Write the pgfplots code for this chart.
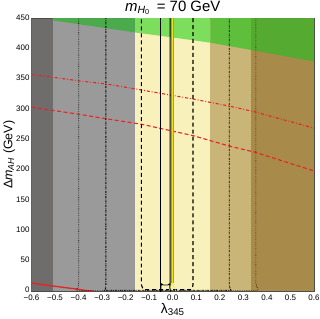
\documentclass[border=0pt]{standalone}
\usepackage{pgfplots}
\pgfplotsset{compat=1.18}
\usepackage{fontspec}
\setmainfont{Liberation Sans}
\definecolor{cdg}{HTML}{6F6C6C}
\definecolor{cg}{HTML}{9A9A9A}
\definecolor{cy}{HTML}{F8F1BC}
\definecolor{ct}{HTML}{C9B577}
\definecolor{cb}{HTML}{A88B4A}
\definecolor{gg}{HTML}{4BAA4B}
\definecolor{gy}{HTML}{7DDE5D}
\definecolor{gt}{HTML}{5FBF3D}
\definecolor{gb}{HTML}{55AA32}
\definecolor{cred}{HTML}{EE2020}
\definecolor{olive}{HTML}{B8A200}
\definecolor{yel}{HTML}{F2E21A}
\begin{document}
\begin{tikzpicture}
\begin{axis}[
  scale only axis, width=282.5bp, height=272.5bp,
  xmin=-0.6, xmax=0.6, ymin=0, ymax=450,
  xtick={-0.6,-0.5,-0.4,-0.3,-0.2,-0.1,0,0.1,0.2,0.3,0.4,0.5,0.6},
  xticklabels={−0.6,−0.5,−0.4,−0.3,−0.2,−0.1,0.0,0.1,0.2,0.3,0.4,0.5,0.6},
  ytick={0,50,...,450},
  minor x tick num=4, minor y tick num=4,
  tick align=inside, major tick length=3bp, minor tick length=1.8bp,
  tick style={black, line width=0.4pt},
  /pgf/number format/assume math mode=true,
  tick label style={font=\fontsize{8}{9}\selectfont},
  xticklabel style={yshift=-0.3bp},
  yticklabel style={xshift=1.5bp, yshift=0.8bp},
  axis line style={line width=0.5pt, black!70},
  title={\textit{m}\textsubscript{\textit{H}\textsubscript{0}}\, = 70 GeV},
  title style={font=\fontsize{15}{16}\selectfont, yshift=-6bp},
  xlabel={λ\textsubscript{345}},
  xlabel style={font=\fontsize{14}{15}\selectfont, yshift=4bp},
  ylabel={Δ\textit{m}\textsubscript{\textit{AH}} (GeV)},
  ylabel style={font=\fontsize{12.5}{13}\selectfont, yshift=-5.5bp},
  clip=true,
]
% bands
\addplot[fill=cdg, draw=none] coordinates {(-0.6,0) (-0.51,0) (-0.51,450) (-0.6,450)};
\addplot[fill=cg, draw=none] coordinates {(-0.51,0) (-0.16,0) (-0.16,450) (-0.51,450)};
\addplot[fill=cy, draw=none] coordinates {(-0.16,0) (0.16,0) (0.16,450) (-0.16,450)};
\addplot[fill=ct, draw=none] coordinates {(0.16,0) (0.333,0) (0.333,450) (0.16,450)};
\addplot[fill=cb, draw=none] coordinates {(0.333,0) (0.6,0) (0.6,450) (0.333,450)};
% green region
\addplot[fill=gg, draw=none] coordinates {(-0.51,447) (-0.16,427) (-0.16,460) (-0.51,460)};
\addplot[fill=gy, draw=none] coordinates {(-0.16,427) (0.07,415) (0.16,410) (0.16,460) (-0.16,460)};
\addplot[fill=gt, draw=none] coordinates {(0.16,410) (0.333,398) (0.333,460) (0.16,460)};
\addplot[fill=gb, draw=none] coordinates {(0.333,398) (0.6,379) (0.6,460) (0.333,460)};
% red curves
\addplot[cred, line width=1.1pt, dash pattern=on 3pt off 2pt on 0.8pt off 2pt] coordinates {
 (-0.6,358) (-0.4,347) (-0.284,342) (-0.133,332) (0.086,317) (0.238,305.6) (0.351,295.6) (0.6,269)};
\addplot[cred, line width=1.1pt, dash pattern=on 4pt off 2.5pt] coordinates {
 (-0.6,303.5) (-0.4,292) (-0.284,284.5) (-0.133,275.4) (0.086,256.6) (0.238,239.6) (0.351,229) (0.6,198.3)};
\addplot[cred, line width=1.3pt] coordinates {(-0.6,13) (-0.5,7.8) (-0.4,2.8) (-0.37,0.8) (-0.34,0)};
% vertical contour lines
\addplot[black, line width=0.7pt, dash pattern=on 0.6pt off 1.2pt] coordinates {
 (-0.399,460) (-0.399,14) (-0.402,6) (-0.41,2) (-0.41,1) (0.36,1) (0.362,3) (0.356,8) (0.353,14) (0.353,460)};
\addplot[black, line width=0.8pt, dash pattern=on 2pt off 1pt on 0.6pt off 1pt] coordinates {
 (-0.284,460) (-0.284,10) (-0.286,3) (-0.29,1.2) (0.25,1.2) (0.244,3) (0.24,10) (0.24,460)};
\addplot[black, line width=1.1pt, dash pattern=on 4pt off 3pt] coordinates {
 (-0.133,460) (-0.133,10) (-0.128,5) (-0.118,2) (0.075,2) (0.083,5) (0.086,10) (0.086,460)};
\addplot[black, line width=0.9pt, smooth, tension=0.4] coordinates {
 (-0.052,460) (-0.052,18) (-0.049,12) (-0.041,10) (-0.02,10) (-0.013,12) (-0.011,18) (-0.011,460)};
% yellow line
\addplot[yel, line width=0.5pt] coordinates {(-0.016,0) (-0.002,14) (0.013,0)};
\addplot[olive, line width=2.6pt] coordinates {(-0.002,460) (-0.002,14)};
\addplot[yel, line width=1.2pt] coordinates {(-0.002,460) (-0.002,14)};
\end{axis}
\pgfresetboundingbox
\useasboundingbox ([xshift=-31.5bp,yshift=-28bp]current axis.south west) rectangle ([xshift=6bp,yshift=18.5bp]current axis.north east);
\end{tikzpicture}
\end{document}
